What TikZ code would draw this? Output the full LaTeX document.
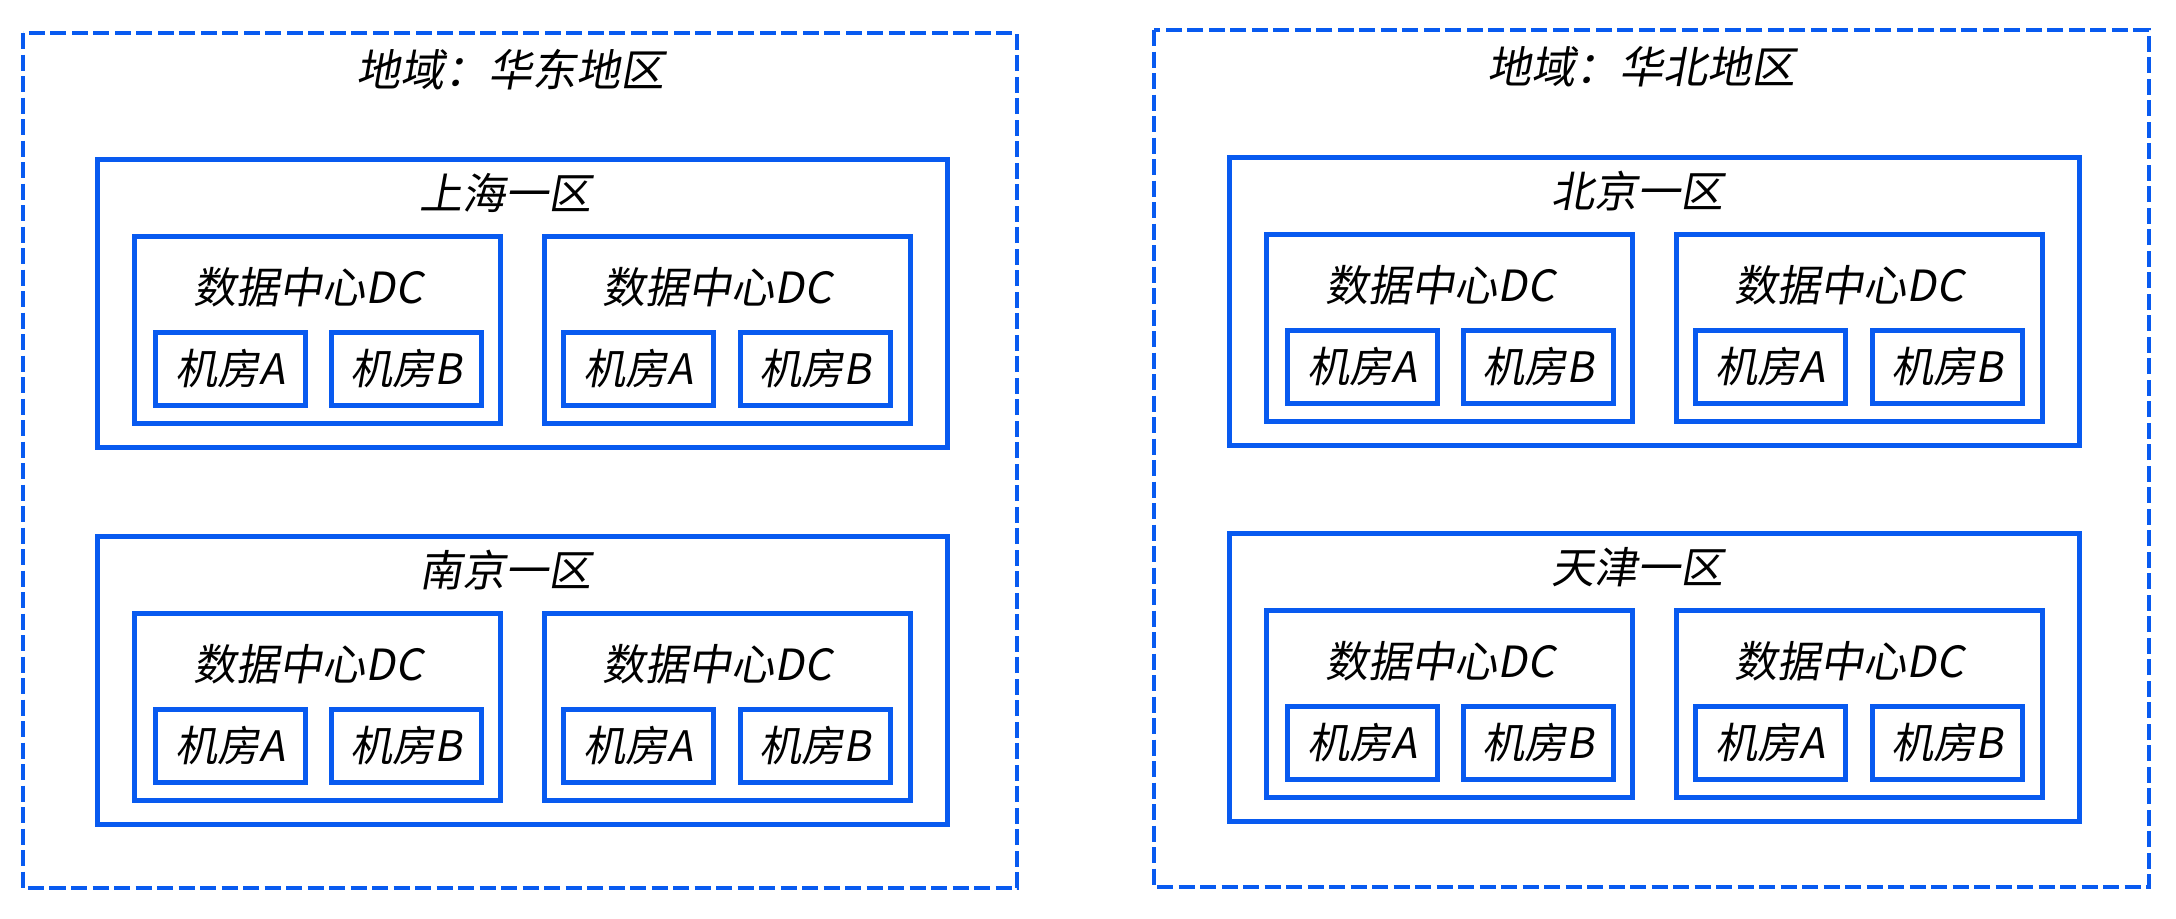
\documentclass[tikz,border=0pt]{standalone}
\usepackage{fontspec}
\setmainfont{Noto Sans CJK SC}[FakeSlant=0.18]
\definecolor{bl}{RGB}{8,90,240}
\tikzset{
  x=0.5pt,y=-0.5pt,
  outerbox/.style={draw=bl,line width=2.4pt,dash pattern=on 8pt off 2.75pt},
  zonebox/.style={draw=bl,line width=2.5pt,anchor=north west,minimum width=425pt,minimum height=144pt,inner sep=0pt},
  dcbox/.style={draw=bl,line width=2.5pt,anchor=north west,minimum width=183pt,minimum height=93.5pt,inner sep=0pt},
  roombox/.style={draw=bl,line width=2.5pt,minimum width=75pt,minimum height=36.5pt,inner sep=0pt,font=\fontsize{21pt}{23pt}\selectfont},
  bigtxt/.style={inner sep=0pt,font=\fontsize{21.5pt}{24pt}\selectfont},
  titletxt/.style={inner sep=0pt,font=\fontsize{22pt}{24pt}\selectfont}
}
\newcommand\myzone[3]{%
\begin{scope}[shift={#2}]
  \node[zonebox] (#1) at (0,0) {};
  \node[bigtxt] (#1-t) at (410,36) {#3};
  \node[dcbox] (#1-d1) at (37,77) {};
  \node[bigtxt] (#1-d1t) at (213,130) {数据中心DC};
  \node[dcbox] (#1-d2) at (447,77) {};
  \node[bigtxt] (#1-d2t) at (622,130) {数据中心DC};
  \node[roombox] (#1-d1a) at (135,211.5) {机房A};
  \node[roombox] (#1-d1b) at (311,211.5) {机房B};
  \node[roombox] (#1-d2a) at (543.5,211.5) {机房A};
  \node[roombox] (#1-d2b) at (720.5,211.5) {机房B};
\end{scope}}
\begin{document}
\begin{tikzpicture}
\useasboundingbox (0,0) rectangle (2176,918);
% left region
\draw[outerbox] (23,33) rectangle (1017,888);
\node[titletxt] (t1) at (510,70) {地域：华东地区};
\myzone{sh}{(95,157)}{上海一区}
\myzone{nj}{(95,534)}{南京一区}
% right region
\draw[outerbox] (1154,30) rectangle (2149,887);
\node[titletxt] (t2) at (1641,67) {地域：华北地区};
\myzone{bj}{(1227,155)}{北京一区}
\myzone{tj}{(1227,531)}{天津一区}
\end{tikzpicture}
\end{document}
